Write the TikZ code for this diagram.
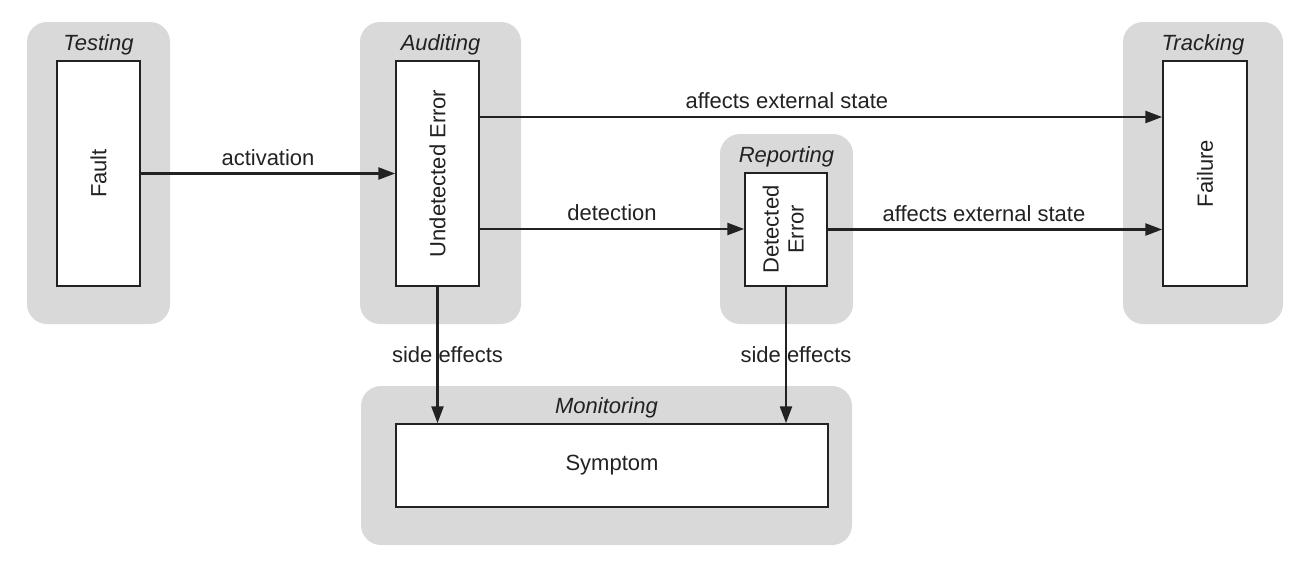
\documentclass[tikz,border=0pt]{standalone}
\usepackage{fontspec}
\setmainfont{Liberation Sans}
\usetikzlibrary{arrows.meta,positioning}
\definecolor{groupgray}{HTML}{D9D9D9}
\definecolor{inkdark}{HTML}{222222}
\newcommand{\diagfont}{\fontsize{22}{25}\selectfont}

\begin{document}
\begin{tikzpicture}[x=1pt,y=-1pt,
		group/.style={fill=groupgray, rounded corners=20pt, inner sep=0pt},
		block/.style={draw=inkdark, fill=white, line width=1.5pt, inner sep=0pt, align=center, font=\diagfont, text=inkdark},
		title/.style={inner sep=0pt, anchor=north, font=\diagfont\itshape, text=inkdark},
		flow/.style={draw=inkdark, line width=2.5pt, -{Triangle[length=17pt,width=12pt]}},
		lbl/.style={inner sep=3pt, font=\diagfont, text=inkdark}]
		\useasboundingbox (0,0) rectangle (1304,568);
		
		\node[group, minimum width=143pt, minimum height=302pt] (testing) at (98.5,173) {};
		\node[group, minimum width=161pt, minimum height=302pt] (auditing) at (440.5,173) {};
		\node[group, minimum width=133pt, minimum height=190pt] (reporting) at (786.5,229) {};
		\node[group, minimum width=160pt, minimum height=302pt] (tracking) at (1203,173) {};
		\node[group, minimum width=491pt, minimum height=159pt] (monitoring) at (606.5,465.5) {};
		
		\node[title, below=13pt of testing.north] {Testing};
		\node[title, below=13pt of auditing.north] {Auditing};
		\node[title, below=13pt of reporting.north] {Reporting};
		\node[title, below=13pt of tracking.north] {Tracking};
		\node[title, below=12pt of monitoring.north] {Monitoring};
		
		\node[block, minimum width=83pt, minimum height=225pt] (fault) at (98.5,173.5) {\rotatebox{90}{Fault}};
		\node[block, minimum width=83pt, minimum height=225pt] (undet) at (437.5,173.5) {\rotatebox{90}{Undetected Error}};
		\node[block, minimum width=82pt, minimum height=113pt] (det) at (786,229.5) {\rotatebox{90}{\begin{tabular}{@{}c@{}}Detected\\Error\end{tabular}}};
		\node[block, minimum width=84pt, minimum height=225pt] (failure) at (1205,173.5) {\rotatebox{90}{Failure}};
		\node[block, minimum width=432pt, minimum height=83pt] (symptom) at (612,465.5) {Symptom};
		
		\coordinate (ueTop) at ([yshift=56.5pt]undet.east);
		\coordinate (ueLow) at ([yshift=-55.5pt]undet.east);
		
		\draw[flow] (fault.east) -- (undet.west) node[lbl, midway, above=4pt] {activation};
		\draw[flow] (ueTop) -- (ueTop -| failure.west) node[lbl, pos=0.45, above=4pt] {affects external state};
		\draw[flow] (ueLow) -- (ueLow -| det.west) node[lbl, midway, above=4pt] {detection};
		\draw[flow] (det.east) -- (det.east -| failure.west) node[lbl, pos=0.467, above=4pt] {affects external state};
		\draw[flow] (undet.south) -- (undet.south |- symptom.north) node[lbl, midway, xshift=10pt] {side effects};
		\draw[flow] (det.south) -- (det.south |- symptom.north) node[lbl, midway, xshift=10pt] {side effects};
	\end{tikzpicture}
\end{document}
